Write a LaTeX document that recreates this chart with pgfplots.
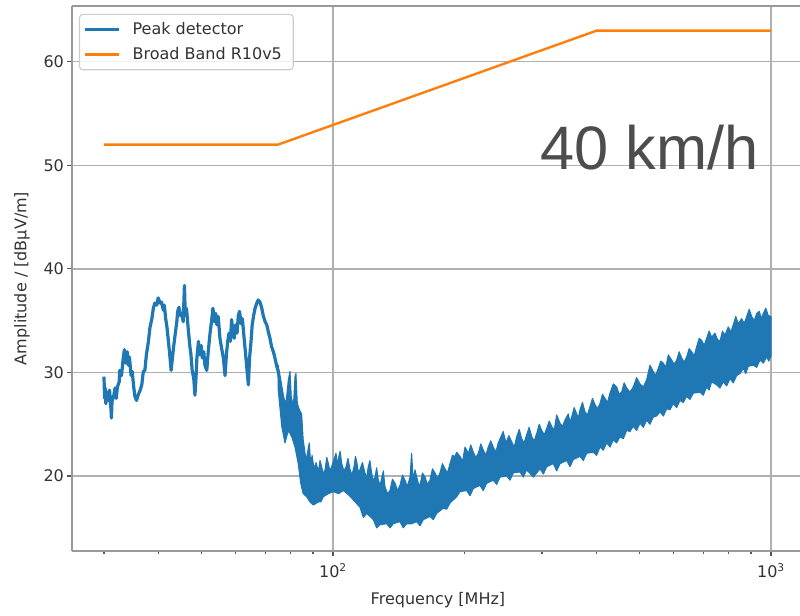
\documentclass[border=0pt]{standalone}
\usepackage{fontspec}
\setmainfont{DejaVu Sans}
\newfontfamily\bigfont{Liberation Sans}
\usepackage{pgfplots}
\pgfplotsset{compat=1.18}
\definecolor{c0}{HTML}{1F77B4}
\definecolor{c1}{HTML}{FF7F0E}
\definecolor{gridc}{HTML}{B0B0B0}
\definecolor{spinec}{HTML}{999999}
\definecolor{tickc}{HTML}{555555}
\definecolor{txtc}{HTML}{333333}
\definecolor{annc}{HTML}{4D4D4D}
\definecolor{legc}{HTML}{CCCCCC}
\begin{document}
\begin{tikzpicture}
\begin{axis}[
  at={(0pt,0pt)}, anchor=south west,
  scale only axis, width=546pt, height=409pt,
  xmode=log, log basis x=10,
  xmin=25.36, xmax=1164.8, ymin=12.76, ymax=65.40,
  axis x line*=box, axis y line*=left,
  axis line style={spinec, line width=1.2pt},
  tick pos=left, tick align=outside,
  major tick length=3.75pt, minor tick length=2.25pt,
  tick style={tickc, line width=0.9pt},
  xtick={100,1000}, xticklabels={10\textsuperscript{2},10\textsuperscript{3}},
  minor xtick={30,40,50,60,70,80,90,200,300,400,500,600,700,800,900},
  ytick={20,30,40,50,60},
  xmajorgrids, ymajorgrids,
  grid style={gridc, line width=1pt},
  tick label style={font=\fontsize{12}{14}\selectfont, text=txtc},
  yticklabel style={xshift=1.2pt},
  xticklabel style={yshift=-2pt},
  /pgf/number format/assume math mode=true,
  xlabel={Frequency [MHz]}, ylabel={Amplitude / [dBµV/m]},
  label style={font=\fontsize{12}{14}\selectfont, text=txtc},
  xlabel style={at={(axis description cs:0.5027,-0.0899)}, anchor=center},
  ylabel style={at={(axis description cs:-0.0687,0.5)}, anchor=center},
  legend style={at={(axis description cs:0.0096,0.985)}, anchor=north west,
    draw=legc, line width=0.8pt, fill=white, fill opacity=0.8, text opacity=1,
    rounded corners=2.5pt, font=\fontsize{12}{14}\selectfont, text=txtc,
    inner xsep=3pt, inner ysep=4pt, row sep=4.25pt, cells={anchor=west}},
  legend image code/.code={\draw[#1] (0pt,0pt) -- (26pt,0pt); \path (33pt,0pt);},
]
\addlegendimage{c0, line width=1.8pt}
\addlegendentry{Peak detector}
\addlegendimage{c1, line width=1.8pt}
\addlegendentry{Broad Band R10v5\hspace*{3.5pt}}

% Peak detector, low-frequency part (single trace)
\addplot[c0, line width=2.4pt, line join=round, forget plot] coordinates {
(30.0,29.6) (30.1,27.5) (30.2,28.5) (30.3,27.0) (30.5,28.1) (30.7,27.3) (30.9,28.3)
(31.1,26.7) (31.2,25.6) (31.3,27.2) (31.6,27.8) (31.8,28.5) (32.0,27.5) (32.2,28.6)
(32.5,29.1) (32.6,30.2) (32.9,29.7) (33.2,31.4) (33.4,32.2) (33.6,30.9) (33.9,32.0)
(34.1,30.7) (34.3,31.5) (34.6,29.7) (34.8,30.1) (35.1,28.5) (35.3,27.7) (35.6,27.3)
(35.9,27.8) (36.3,28.3) (36.6,28.8) (36.9,30.1) (37.2,30.2) (37.5,31.7) (37.9,33.0)
(38.2,34.3) (38.6,35.2) (38.9,36.2) (39.2,36.7) (39.6,36.5) (39.9,37.2) (40.3,36.7)
(40.6,36.8) (41.0,36.0) (41.2,36.5) (41.5,35.2) (41.8,34.3) (42.1,33.0) (42.4,31.7)
(42.7,30.2) (43.0,31.4) (43.3,32.6) (43.6,33.6) (44.0,34.9) (44.2,35.9) (44.5,36.3)
(44.8,35.5) (45.1,35.7) (45.5,34.9) (45.8,38.4) (46.0,35.5) (46.3,36.2) (46.7,34.3)
(47.1,32.6) (47.4,31.7) (47.7,30.2) (48.1,29.4) (48.4,27.8) (48.7,29.7) (48.9,31.4)
(49.3,33.0) (49.6,31.7) (50.0,32.6) (50.3,31.4) (50.7,32.0) (51.0,30.7) (51.5,30.2)
(51.9,32.0) (52.4,33.8) (52.8,34.9) (53.2,36.2) (53.6,34.9) (54.0,35.7) (54.3,34.6)
(54.7,35.4) (55.2,33.3) (55.7,32.3) (56.2,31.4) (56.7,29.7) (57.1,31.7) (57.5,33.0)
(57.9,33.8) (58.3,33.0) (58.7,35.1) (59.1,33.9) (59.5,33.3) (60.0,34.6) (60.4,33.8)
(60.8,35.5) (61.2,35.9) (61.7,34.7) (62.1,35.2) (62.5,33.9) (63.0,32.3) (63.5,30.7)
(64.1,28.8) (64.5,31.4) (65.0,33.0) (65.4,34.6) (65.9,35.5) (66.4,36.2) (67.0,36.7)
(67.5,37.0) (68.1,36.8) (68.7,36.3) (69.3,35.5) (70.0,34.9) (70.6,34.6) (71.2,33.9)
(71.8,33.3) (72.4,32.5) (73.1,32.0) (73.7,31.4) (74.4,30.6) (75.0,30.1) (75.7,29.1)
(76.4,28.1) (77.0,27.2) (77.7,26.5) (78.4,25.6)
};

% Peak detector, dense band (upper envelope then lower envelope)
\addplot[c0, fill=c0, line width=0.8pt, line join=round, forget plot] coordinates {
(75.0,30.7) (75.9,28.9) (77.0,27.7) (78.1,27.0) (79.1,29.3) (79.8,30.1) (80.3,27.7)
(81.2,26.7) (81.9,29.6) (82.3,29.9) (82.9,27.0) (83.8,26.4) (84.8,26.0) (85.5,23.5)
(86.8,21.5) (88.3,23.2)
(88.9,21.2) (89.6,22.0) (90.5,20.7) (91.5,21.3) (92.6,20.4) (93.4,21.5) (94.2,20.9)
(95.0,20.2) (95.9,20.6) (96.8,21.8) (97.6,21.2) (98.4,20.5) (99.3,20.9) (100.5,21.6)
(101.6,22.2) (102.3,21.0) (102.9,21.7) (103.8,22.4) (104.7,21.2) (105.9,20.5) (107.1,20.9)
(108.2,21.7) (109.4,20.6) (110.5,20.1) (111.7,20.9) (112.5,21.9) (113.3,21.4) (114.2,20.4)
(115.2,20.6) (116.7,21.3) (118.3,20.3) (119.3,19.8) (120.4,20.9) (121.4,21.5) (122.5,20.3)
(123.6,19.5) (124.7,19.9) (125.8,20.8) (126.9,19.6) (128.0,19.1) (129.2,19.8) (130.3,20.5)
(131.4,19.0) (133.1,18.3) (134.9,18.6) (136.7,19.7) (138.6,19.3) (140.4,18.6) (142.2,19.1)
(144.1,20.1) (146.0,19.6) (147.9,19.0) (149.9,19.9) (151.2,22.2) (152.5,19.5) (153.9,20.6)
(155.3,19.9) (156.6,19.3) (158.0,19.1) (160.1,20.3) (162.2,19.9) (164.3,19.2) (166.5,19.6)
(168.7,20.7) (171.0,20.3) (173.2,19.8) (175.5,20.3) (177.8,21.2) (180.2,20.7) (182.6,20.3)
(185.0,21.2) (187.4,22.0) (189.9,21.9) (191.6,22.3) (195.0,21.9) (197.6,21.4) (200.2,22.8)
(203.7,22.2) (206.4,23.0) (209.1,22.3) (211.9,21.8) (214.7,22.2) (217.5,23.1) (220.4,22.5)
(223.3,22.0) (226.2,22.8) (229.2,23.4) (232.2,22.8) (235.3,22.3) (238.4,23.2) (244.7,24.3)
(248.3,23.2) (252.1,23.9) (255.9,23.3) (259.3,22.8) (262.7,23.8) (266.2,24.5) (269.7,23.6)
(273.2,23.2) (276.8,24.0) (280.5,24.7) (284.3,23.8) (288.0,23.4) (291.8,24.1) (295.7,25.0)
(299.6,24.4) (303.6,24.0) (307.6,24.6) (311.6,25.3) (315.7,24.8) (319.9,24.4) (324.1,25.9)
(329.9,25.1) (334.2,24.8) (338.6,25.4) (344.5,26.0) (347.6,25.2) (350.8,25.7) (355.4,26.6)
(360.1,26.0) (363.2,25.6) (366.4,26.4) (371.2,27.1) (376.1,26.2) (381.1,25.9) (386.2,26.7)
(391.3,27.5) (396.4,26.9) (401.7,26.5) (407.0,27.0) (412.4,27.9) (417.8,27.5) (423.3,27.1)
(428.9,28.0) (436.5,28.9) (444.3,28.6) (450.1,27.9) (456.1,28.1) (462.1,29.0) (468.2,28.5)
(476.4,28.1) (484.9,28.6) (493.4,29.5) (502.2,28.9) (511.1,28.6) (520.2,29.3) (529.3,30.7)
(536.9,30.2) (544.9,29.7) (553.0,30.4) (560.3,31.1) (567.7,30.9) (575.2,30.5) (582.8,31.7)
(593.3,31.2) (601.1,30.8) (609.1,31.2) (617.1,32.0) (625.3,31.4) (633.5,31.0) (641.9,31.5)
(650.4,32.3) (659.0,32.0) (667.8,31.6) (676.7,32.5) (685.6,33.3) (694.6,33.1) (703.8,32.6)
(713.1,33.3) (722.5,34.0) (732.1,33.4) (744.8,33.8) (754.7,33.2) (764.8,33.0) (775.0,34.0)
(785.2,33.6) (798.9,34.4) (809.5,33.9) (820.2,34.6) (831.0,35.4) (842.0,34.7) (857.2,35.2)
(868.5,34.7) (880.0,35.4) (891.7,36.1) (903.5,35.4) (915.5,35.0) (927.7,35.7) (940.4,35.9)
(950.4,35.2) (960.5,35.7) (973.1,36.2) (985.8,35.5) (1000,35.4)
(1000,31.6) (988.6,31.1) (977.5,31.5) (960.5,30.9) (943.8,31.2) (927.7,30.5) (911.2,30.7)
(887.5,30.6) (876.0,29.9) (864.6,30.4) (849.7,29.9) (835.0,29.7) (820.2,29.0) (806.1,29.4)
(792.0,28.7) (778.2,29.1) (764.8,28.5) (751.6,28.8) (732.1,29.1) (722.5,28.3) (713.1,28.6)
(700.6,27.8) (688.4,28.1) (664.6,28.0) (653.1,27.4) (641.9,27.7) (630.7,27.1) (619.7,27.3)
(609.0,26.6) (598.3,27.0) (588.0,26.4) (578.0,26.5) (568.0,25.8) (558.0,26.2) (548.2,25.8)
(538.6,25.7) (529.3,25.0) (520.2,25.4) (511.1,24.7) (502.2,25.1) (493.4,24.4) (484.9,24.8)
(476.4,24.3) (468.2,24.4) (460.0,23.6) (452.1,23.8) (444.3,23.2) (436.5,23.5) (429.0,22.8)
(421.6,23.2) (414.2,22.5) (407.0,22.8) (399.9,22.0) (392.9,22.3) (379.5,22.2) (372.9,21.5)
(366.4,21.9) (353.8,21.6) (347.7,20.9) (341.7,21.5) (329.9,21.2) (324.1,20.5) (318.4,21.2)
(307.6,20.9) (302.2,20.2) (296.9,20.7) (286.7,19.9) (276.8,20.6) (272.0,19.9) (267.3,20.4)
(258.0,20.3) (253.6,19.6) (249.2,20.0) (240.6,19.9) (236.4,19.2) (232.2,19.6) (224.3,19.3)
(220.4,18.6) (216.5,19.1) (209.1,18.8) (205.5,18.1) (202.0,18.6) (195.0,18.5) (191.6,18.0)
(185.0,17.4) (181.8,16.8) (178.6,16.9) (172.5,16.4) (169.5,15.8) (166.5,16.1) (160.8,15.8)
(158.0,15.2) (155.3,15.6) (151.2,15.4) (147.3,15.4) (144.7,15.0) (142.2,15.6) (137.3,15.4)
(135.0,15.0) (132.6,15.4) (128.0,15.3) (125.8,15.0) (123.6,15.8) (119.4,16.4) (117.3,16.0)
(115.2,17.0) (111.3,17.7) (108.4,18.2) (105.6,18.6) (102.9,18.3) (100.2,18.5) (97.6,18.3)
(95.0,18.0) (93.8,17.5) (92.6,17.5) (90.2,17.2) (88.6,17.5) (87.1,18.0) (85.5,18.3)
(84.4,19.3) (83.3,21.2) (81.9,22.8) (80.5,23.8) (79.1,24.4) (77.7,23.2) (76.4,24.8)
(75.0,28.3)
} -- cycle;

% Broad band limit R10v5
\addplot[c1, line width=1.8pt, forget plot] coordinates {
(30,52) (75,52) (400,63) (1000,63)
};

\node[anchor=base west, inner sep=0pt, text=annc,
      font=\bigfont\fontsize{46}{50}\selectfont] at (axis cs:296.9,49.6) {40 km/h};
\end{axis}
\pgfresetboundingbox
\useasboundingbox (-54pt,-48pt) rectangle (546pt,413.3pt);
\end{tikzpicture}
\end{document}
